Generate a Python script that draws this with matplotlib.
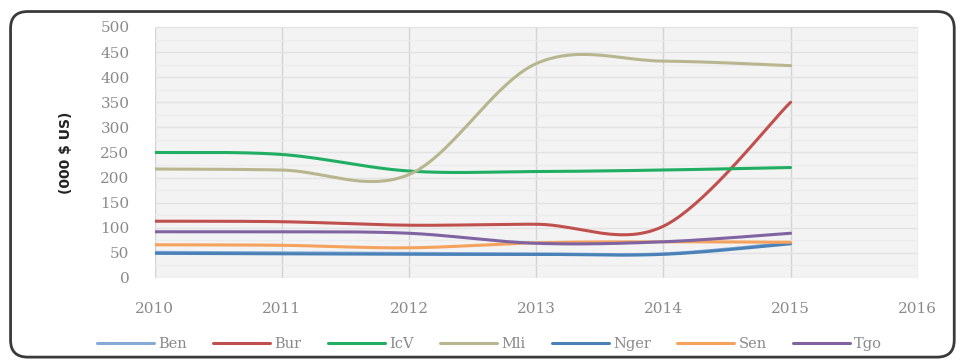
import numpy as np
import matplotlib.pyplot as plt
from matplotlib.patches import FancyBboxPatch

years = [2010, 2011, 2012, 2013, 2014, 2015]
ben = [51, 50, 49, 48, 48, 70]
bur = [113, 112, 105, 107, 103, 350]
icv = [250, 246, 213, 212, 215, 220]
mli = [217, 215, 206, 427, 432, 423]
nger = [49, 48, 47, 47, 47, 68]
sen = [66, 65, 60, 70, 72, 71]
tgo = [92, 92, 89, 69, 72, 89]

series = [
    ('Ben', ben, '#86a9d6'),
    ('Bur', bur, '#c0504d'),
    ('IcV', icv, '#1fae62'),
    ('Mli', mli, '#b8b68e'),
    ('Nger', nger, '#4a82b8'),
    ('Sen', sen, '#f5a25d'),
    ('Tgo', tgo, '#8064a2'),
]


def smooth(x, y, n=40):
    # lissage type Excel (Catmull-Rom -> Bezier)
    x = np.asarray(x, float)
    y = np.asarray(y, float)
    px, py = [], []
    m = len(x)
    for i in range(m - 1):
        x0, y0 = (x[i - 1], y[i - 1]) if i > 0 else (x[i], y[i])
        x3, y3 = (x[i + 2], y[i + 2]) if i + 2 < m else (x[i + 1], y[i + 1])
        c1x = x[i] + (x[i + 1] - x0) / 6
        c1y = y[i] + (y[i + 1] - y0) / 6
        c2x = x[i + 1] - (x3 - x[i]) / 6
        c2y = y[i + 1] - (y3 - y[i]) / 6
        t = np.linspace(0, 1, n)
        bx = (1 - t) ** 3 * x[i] + 3 * t * (1 - t) ** 2 * c1x + 3 * t ** 2 * (1 - t) * c2x + t ** 3 * x[i + 1]
        by = (1 - t) ** 3 * y[i] + 3 * t * (1 - t) ** 2 * c1y + 3 * t ** 2 * (1 - t) * c2y + t ** 3 * y[i + 1]
        px.extend(bx)
        py.extend(by)
    return np.array(px), np.array(py)


fig = plt.figure(figsize=(9.6, 3.6), dpi=100)
fig.patches.append(FancyBboxPatch((0.011, 0.008), 0.983, 0.96,
                                  boxstyle='round,pad=0,rounding_size=0.018',
                                  transform=fig.transFigure, facecolor='white',
                                  edgecolor='#3a3a3a', linewidth=2.0, zorder=-1,
                                  mutation_aspect=2.6))

ax = fig.add_axes([0.161, 0.228, 0.795, 0.697])
ax.set_facecolor('#f3f3f3')

for name, vals, col in series:
    sx, sy = smooth(years, vals)
    ax.plot(sx, sy, color=col, linewidth=2.2, label=name, solid_capstyle='round')

ax.set_xlim(2010, 2016)
ax.set_ylim(0, 500)
ax.set_xticks(range(2010, 2017))
ax.set_yticks(range(0, 501, 50))
ax.set_yticks(range(25, 500, 50), minor=True)
ax.grid(axis='x', color='#d4d4d4', linewidth=1)
ax.grid(axis='y', which='major', color='#e2e2e2', linewidth=1)
ax.grid(axis='y', which='minor', color='#ebebeb', linewidth=0.8)
ax.set_axisbelow(True)
for s in ax.spines.values():
    s.set_visible(False)
ax.tick_params(axis='both', which='both', length=0)
ax.tick_params(axis='x', pad=17)
ax.tick_params(axis='y', pad=18)
for lab in ax.get_xticklabels() + ax.get_yticklabels():
    lab.set_fontfamily('DejaVu Serif')
    lab.set_color('#8a8a8a')
    lab.set_fontsize(11)
ax.set_ylabel('(000 $ US)', fontsize=10, fontweight='bold', color='#222222', labelpad=20)

leg = fig.legend(loc='center', bbox_to_anchor=(0.51, 0.045), ncol=7, frameon=False,
                 handlelength=3.9, columnspacing=1.8, handletextpad=0.3,
                 prop={'family': 'DejaVu Serif', 'size': 10.5})
for t in leg.get_texts():
    t.set_color('#8a8a8a')

plt.savefig('out.png', dpi=100)
